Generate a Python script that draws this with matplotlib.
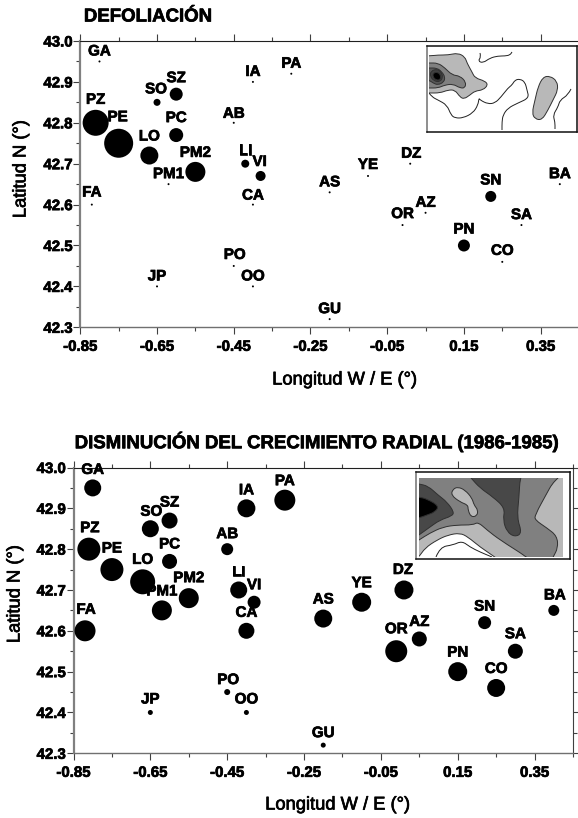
"""Defoliacion and radial growth maps, station bubbles with contour insets."""
import matplotlib
matplotlib.use('Agg')
import matplotlib.pyplot as plt
import matplotlib.patheffects as pe
from matplotlib.path import Path
from matplotlib.patches import PathPatch, Rectangle
from matplotlib.ticker import FormatStrFormatter

W, H = 578, 818
plt.rcParams['font.family'] = ['Liberation Sans', 'DejaVu Sans']

stations = ['GA', 'SO', 'SZ', 'PZ', 'PE', 'LO', 'PC', 'PM1', 'PM2', 'AB', 'IA', 'PA', 'LI', 'VI', 'CA',
            'FA', 'AS', 'YE', 'DZ', 'OR', 'AZ', 'SN', 'SA', 'BA', 'PN', 'CO', 'GU', 'PO', 'OO', 'JP']
lon = [-0.80, -0.65, -0.60, -0.81, -0.75, -0.67, -0.60, -0.62, -0.55, -0.45, -0.40, -0.30, -0.42, -0.38, -0.40,
       -0.82, -0.20, -0.10, 0.01, -0.01, 0.05, 0.22, 0.30, 0.40, 0.15, 0.25, -0.20, -0.45, -0.40, -0.65]
lat = [42.95, 42.85, 42.87, 42.80, 42.75, 42.72, 42.77, 42.65, 42.68, 42.80, 42.90, 42.92, 42.70, 42.67, 42.60,
       42.60, 42.63, 42.67, 42.70, 42.55, 42.58, 42.62, 42.55, 42.65, 42.50, 42.46, 42.32, 42.45, 42.40, 42.40]
# bubble sizes (diameter, px)
defoliacion = [2, 7, 13, 26, 29, 18, 14, 2, 20, 2, 2, 2, 8, 10, 2,
               2, 2, 2, 2, 2, 2, 11, 2, 2, 12, 2, 2, 2, 2, 2]
crecimiento = [17, 17, 16, 23, 23, 25, 15, 20, 20, 12, 18, 21, 17, 13, 16,
               21, 18, 19, 19, 22, 15, 13, 15, 11, 19, 18, 5, 6, 5, 5]

x_major = [-0.85, -0.65, -0.45, -0.25, -0.05, 0.15, 0.35]
x_minor = [-0.75, -0.55, -0.35, -0.15, 0.05, 0.25, 0.45]
y_major = [42.3, 42.4, 42.5, 42.6, 42.7, 42.8, 42.9, 43.0]
y_minor = [42.35, 42.45, 42.55, 42.65, 42.75, 42.85, 42.95]

# label offsets from the point, px
off_top = [(0, 10), (-1, 13), (0, 16), (0, 23), (-1, 26), (0, 19), (0, 17), (0, 10), (0, 19), (0, 9), (0, 10), (0, 10), (0, 13), (-1, 14), (0, 9),
           (0, 12), (0, 10), (0, 11), (1, 10), (0, 11), (0, 10), (0, 16), (0, 10), (0, 10), (0, 16), (0, 11), (0, 10), (1, 11), (0, 10), (0, 10)]
off_bot = [(0, 18), (1, 17), (0, 18), (1, 21), (0, 21), (0, 22), (0, 17), (0, 19), (0, 20), (0, 15), (0, 18), (0, 19), (0, 18), (0, 17), (0, 18),
           (1, 21), (0, 19), (0, 19), (-1, 20), (0, 22), (0, 17), (0, 16), (0, 17), (1, 15), (0, 19), (0, 19), (0, 12), (1, 12), (0, 13), (0, 13)]

# contour outlines of the first inset, traced in px of the figure
# outlines run past the field edge and get clipped to it
def_light = [(410, 56), (429, 56), (438, 55), (448, 55), (458, 53), (465, 57), (467, 63), (472, 72), (475, 78), (485, 81),
             (488, 85), (483, 90), (475, 91), (470, 95), (464, 99), (460, 97), (455, 90), (448, 90), (440, 93), (429, 93), (410, 93)]
def_mid = [(410, 63), (429, 63), (438, 63), (445, 68), (452, 75), (460, 76), (466, 82), (465, 88), (460, 88), (453, 84),
           (445, 85), (438, 88), (429, 88), (410, 88)]
def_dark = [(410, 68), (429, 68), (437, 68), (442, 72), (445, 77), (444, 82), (438, 85), (433, 83), (429, 80), (410, 78)]
def_core1 = [(431, 71), (437, 69), (441, 72), (443, 77), (440, 82), (434, 81), (430, 76)]
def_core2 = [(433, 73), (438, 72), (441, 76), (440, 80), (436, 80), (433, 77)]
def_oval = [(550, 76), (557, 81), (558, 90), (553, 100), (548, 110), (542, 120), (535, 119), (532, 113),
            (535, 100), (538, 87), (543, 77)]
def_coast = [[(429, 93), (432, 97), (438, 100), (447, 105), (451, 115), (455, 118), (463, 118), (473, 113),
              (478, 105), (479, 98), (480, 100), (488, 104), (495, 103), (501, 97), (508, 88), (512, 85),
              (515, 80), (520, 79), (525, 82), (527, 90), (529, 98), (518, 103), (508, 108), (503, 115),
              (502, 122), (502, 130)],
             [(480, 53), (481, 57), (478, 61), (483, 63), (490, 58), (498, 56), (505, 56), (510, 55), (512, 52)],
             [(571, 89), (568, 95), (560, 100), (558, 107), (553, 115), (555, 122), (555, 129)]]

# contour outlines of the second inset
gro_band = [(400, 552), (419, 540), (430, 533), (443, 527), (457, 525), (473, 525), (478, 522), (487, 530), (500, 540),
            (527, 557), (550, 575), (400, 575)]
gro_white = [(400, 575), (419, 557), (425, 548), (437, 540), (448, 535), (460, 533), (468, 537), (480, 547), (495, 557),
             (512, 570), (470, 590), (420, 590)]
gro_right = [(552, 484), (558, 478), (575, 460), (595, 480), (595, 575), (545, 575), (553, 557), (558, 548), (557, 536),
             (547, 528), (535, 520), (535, 515), (547, 493)]
gro_left = [(400, 480), (419, 484), (428, 486), (438, 495), (447, 502), (454, 512), (452, 516), (440, 520), (430, 527),
            (419, 535), (400, 548)]
gro_black = [(400, 495), (419, 497), (427, 499), (439, 506), (435, 512), (427, 515), (419, 518), (400, 522)]
gro_blob = [(458, 487), (465, 490), (472, 498), (474, 505), (478, 510), (477, 516), (471, 517), (468, 510),
            (468, 505), (460, 502), (451, 495), (453, 489)]
gro_upper = [(460, 465), (525, 465), (520, 478), (519, 497), (517, 518), (522, 533), (515, 537), (507, 532), (503, 520),
             (505, 508), (493, 497), (480, 488), (471, 478)]
gro_line = [(436, 557), (440, 547), (453, 545), (462, 541), (470, 547), (480, 552), (492, 557)]

heavy = [pe.withStroke(linewidth=0.5, foreground='black')]


def smooth(pts, closed=True):
    # quadratic curve through the midpoints of the traced outline
    if closed:
        first = ((pts[-1][0] + pts[0][0]) / 2, (pts[-1][1] + pts[0][1]) / 2)
        verts, codes = [first], [Path.MOVETO]
        ring = pts + [pts[0]]
        for a, b in zip(ring[:-1], ring[1:]):
            verts += [a, ((a[0] + b[0]) / 2, (a[1] + b[1]) / 2)]
            codes += [Path.CURVE3, Path.CURVE3]
    else:
        verts, codes = [pts[0]], [Path.MOVETO]
        for a, b in zip(pts[1:-1], pts[2:]):
            verts += [a, ((a[0] + b[0]) / 2, (a[1] + b[1]) / 2)]
            codes += [Path.CURVE3, Path.CURVE3]
        verts.append(pts[-1])
        codes.append(Path.LINETO)
    return Path(verts, codes)


def blob(ax, pts, color, field, edge='#303030'):
    p = PathPatch(smooth(pts), facecolor=color, edgecolor=edge, lw=0.7)
    ax.add_patch(p)
    p.set_clip_path(field)


def line(ax, pts, field):
    p = PathPatch(smooth(pts, closed=False), facecolor='none', edgecolor='#202020', lw=0.7)
    ax.add_patch(p)
    p.set_clip_path(field)


def px_axes(x0, y0, x1, y1):
    return fig.add_axes([x0 / W, 1 - y1 / H, (x1 - x0) / W, (y1 - y0) / H])


def panel(x0, y0, x1, y1, sizes, offsets):
    ax = px_axes(x0, y0, x1, y1)
    ax.set_xlim(-0.85, 0.45)
    ax.set_ylim(42.3, 43.0)
    ax.scatter(lon, lat, s=[(d * 0.72) ** 2 for d in sizes], c='black', linewidths=0, clip_on=False, zorder=3)
    for name, x, y, (dx, dy) in zip(stations, lon, lat, offsets):
        ax.annotate(name, (x, y), xytext=(dx, dy), textcoords='offset pixels', ha='center', va='center',
                    fontsize=10.9, fontweight='bold', zorder=4, annotation_clip=False, path_effects=heavy)
    ax.set_xticks(x_major)
    ax.set_xticks(x_minor, minor=True)
    ax.set_yticks(y_major)
    ax.set_yticks(y_minor, minor=True)
    ax.xaxis.set_major_formatter(FormatStrFormatter('%.2f'))
    ax.yaxis.set_major_formatter(FormatStrFormatter('%.1f'))
    ax.tick_params(which='major', length=5, width=0.8, color='#404040', labelsize=10.8, top=True, right=True)
    ax.tick_params(which='minor', length=2.8, width=0.8, color='#404040', top=True, right=True)
    ax.tick_params(axis='x', which='major', pad=4)
    ax.tick_params(axis='y', which='major', pad=0.5)
    for lab in ax.get_xticklabels() + ax.get_yticklabels():
        lab.set_fontweight('bold')
        lab.set_path_effects(heavy)
    ax.spines['left'].set_color('#808080')
    ax.spines['left'].set_linewidth(1.6)
    ax.spines['bottom'].set_color('#707070')
    ax.spines['bottom'].set_linewidth(1.0)
    ax.spines['top'].set_color('#202020')
    ax.spines['right'].set_color('#404040')
    return ax


def inset(x0, y0, x1, y1):
    ax = px_axes(x0, y0, x1, y1)
    ax.set_xlim(x0, x1)
    ax.set_ylim(y1, y0)
    ax.set_xticks([])
    ax.set_yticks([])
    ax.set_zorder(5)
    for s in ax.spines.values():
        s.set_linewidth(1.1)
        s.set_color('#101010')
    ax.spines['left'].set_color('#707070')
    return ax


def ftext(x, y, s, size, weight='normal', rotation=0):
    fig.text(x / W, 1 - y / H, s, ha='center', va='center', fontsize=size, fontweight=weight,
             rotation=rotation, path_effects=heavy)


fig = plt.figure(figsize=(W / 100, H / 100), dpi=100)

panel(80.3, 41, 579, 327.3, defoliacion, off_top)
panel(73.5, 467.5, 573, 753.3, crecimiento, off_bot)

ftext(148, 17, 'DEFOLIACIÓN', 13.4, 'bold')
ftext(316.5, 442, 'DISMINUCIÓN DEL CRECIMIENTO RADIAL (1986-1985)', 13.4, 'bold')
ftext(345, 380, 'Longitud W / E (°)', 13.2)
ftext(338, 805, 'Longitud W / E (°)', 13.2)
ftext(21, 169, 'Latitud N (°)', 13.2, rotation=90)
ftext(15, 594, 'Latitud N (°)', 13.2, rotation=90)

# first inset
a = inset(427, 46, 577, 132)
fa = Rectangle((429, 46), 148, 86, transform=a.transData)
blob(a, def_light, '#b8b8b8', fa)
blob(a, def_mid, '#808080', fa)
blob(a, def_dark, '#585858', fa)
blob(a, def_core1, '#404040', fa)
blob(a, def_core2, '#000000', fa)
blob(a, def_oval, '#b8b8b8', fa)
for c in def_coast:
    line(a, c, fa)

# second inset, the filled field stops short of the frame
b = inset(416, 472, 570, 559)
fb = Rectangle((419, 478), 144, 79, transform=b.transData)
b.fill_between([419, 563], 478, 557, color='#808080', lw=0)
blob(b, gro_band, '#b8b8b8', fb)
blob(b, gro_white, '#ffffff', fb)
blob(b, gro_right, '#b8b8b8', fb)
blob(b, gro_left, '#484848', fb)
blob(b, gro_black, '#000000', fb)
blob(b, gro_blob, '#b8b8b8', fb)
blob(b, gro_upper, '#484848', fb)
line(b, gro_line, fb)

fig.savefig('out.png', dpi=100)
plt.close()
